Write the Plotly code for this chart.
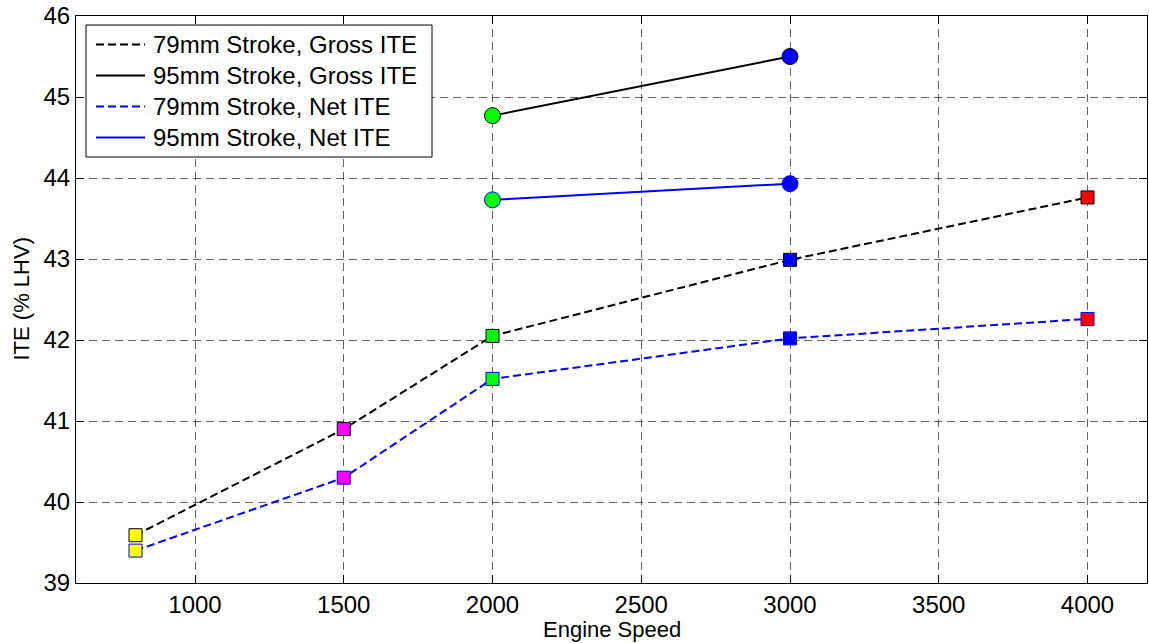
import plotly.graph_objects as go

# Engine speeds and ITE values (% LHV)
speed_79 = [800, 1500, 2000, 3000, 4000]
gross_79 = [39.59, 40.90, 42.05, 42.99, 43.76]
net_79 = [39.40, 40.30, 41.52, 42.02, 42.26]

speed_95 = [2000, 3000]
gross_95 = [44.77, 45.50]
net_95 = [43.73, 43.93]

# marker fill by engine speed
speed_colors = {800: "#ffff00", 1500: "#ff00ff", 2000: "#00ff00", 3000: "#0000ff", 4000: "#ff0000"}

legend_labels = [
    "79mm Stroke, Gross ITE",
    "95mm Stroke, Gross ITE",
    "79mm Stroke, Net ITE",
    "95mm Stroke, Net ITE",
]
legend_colors = ["#000000", "#000000", "#0000ff", "#0000ff"]
legend_dashes = ["8px,4px", "solid", "8px,4px", "solid"]

x_ticks = [1000, 1500, 2000, 2500, 3000, 3500, 4000]
y_ticks = [39, 40, 41, 42, 43, 44, 45, 46]

FONT = "Liberation Sans, Arial, sans-serif"
TICK_FS = 24
LEG_FS = 24
TITLE_FS = 22

fig = go.Figure()

def add_series(xs, ys, line_color, dash, symbol, size, edge):
    fig.add_trace(go.Scatter(
        x=xs, y=ys, mode="lines+markers",
        line=dict(color=line_color, width=2, dash=dash),
        marker=dict(symbol=symbol, size=size,
                    color=[speed_colors[s] for s in xs],
                    line=dict(color=edge, width=1)),
        showlegend=False, hoverinfo="x+y",
    ))

add_series(speed_79, gross_79, "#000000", "8px,4px", "square", 13, "#000000")
add_series(speed_79, net_79, "#0000ff", "8px,4px", "square", 13, "#0000ff")
add_series(speed_95, gross_95, "#000000", "solid", "circle", 16, "#000000")
add_series(speed_95, net_95, "#0000ff", "solid", "circle", 16, "#0000ff")

# plot-area geometry (pixels) used to place the legend box and titles
W, H = 1149, 643
L, R, T, B = 76, 2, 16, 60
pw, ph = W - L - R, H - T - B

def px(xp):
    return (xp - L) / pw

def py(yp):
    return (H - B - yp) / ph

shapes = [dict(type="rect", xref="paper", yref="paper",
               x0=px(86), x1=px(432), y0=py(157), y1=py(25),
               line=dict(color="black", width=1), fillcolor="white", layer="above")]
annotations = []
rows = [44.5, 75.5, 106.5, 137.5]
for lab, col, dsh, yy in zip(legend_labels, legend_colors, legend_dashes, rows):
    shapes.append(dict(type="line", xref="paper", yref="paper",
                       x0=px(96), x1=px(145), y0=py(yy), y1=py(yy),
                       line=dict(color=col, width=2, dash=dsh), layer="above"))
    annotations.append(dict(xref="paper", yref="paper", x=px(151), y=py(yy),
                            text=lab, showarrow=False, xanchor="left", yanchor="middle",
                            font=dict(family=FONT, size=LEG_FS, color="black")))

# axis titles
annotations.append(dict(xref="paper", yref="paper", x=0.5, y=py(643),
                        text="Engine Speed", showarrow=False,
                        xanchor="center", yanchor="bottom", borderpad=0,
                        font=dict(family=FONT, size=TITLE_FS, color="black")))
annotations.append(dict(xref="paper", yref="paper", x=px(21), y=0.5,
                        text="ITE (% LHV)", showarrow=False, textangle=-90,
                        xanchor="center", yanchor="middle",
                        font=dict(family=FONT, size=TITLE_FS, color="black")))

fig.update_layout(
    width=W, height=H,
    margin=dict(l=L, r=R, t=T, b=B),
    paper_bgcolor="white", plot_bgcolor="white",
    font=dict(family=FONT, size=TICK_FS, color="black"),
    shapes=shapes, annotations=annotations,
    xaxis=dict(
        range=[600, 4200], tickvals=x_ticks, ticktext=[str(v) for v in x_ticks],
        showline=True, linecolor="black", linewidth=1, mirror="ticks",
        ticks="inside", ticklen=8, tickcolor="black",
        tickfont=dict(size=TICK_FS),
        showgrid=True, gridcolor="rgba(0,0,0,0.6)", gridwidth=1, griddash="8px,5px",
        zeroline=False, automargin=False,
    ),
    yaxis=dict(
        range=[39, 46], tickvals=y_ticks, ticktext=[str(v) for v in y_ticks],
        showline=True, linecolor="black", linewidth=1, mirror="ticks",
        ticks="inside", ticklen=8, tickcolor="black",
        tickfont=dict(size=TICK_FS),
        showgrid=True, gridcolor="rgba(0,0,0,0.6)", gridwidth=1, griddash="8px,5px",
        zeroline=False, automargin=False,
    ),
)

fig.write_html("out.html")
